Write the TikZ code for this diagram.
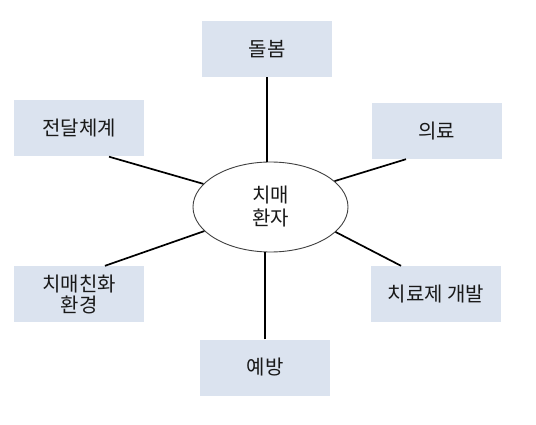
\documentclass[tikz,border=0pt]{standalone}
\usepackage{fontspec}
\setmainfont{Noto Sans CJK KR}
\usetikzlibrary{shapes.geometric}
\definecolor{boxfill}{RGB}{219,227,239}
\definecolor{txt}{RGB}{25,25,25}
\tikzset{
  topic/.style={rectangle, fill=boxfill, draw=none, minimum width=130pt, minimum height=56pt,
    inner sep=2pt, align=center, text=txt, font=\fontsize{20}{22}\selectfont},
  hub/.style={ellipse, draw=black!75, line width=0.9pt, fill=white, minimum width=155pt,
    minimum height=90pt, inner sep=0pt, align=center, text=txt, font=\fontsize{20}{23}\selectfont},
  link/.style={draw=black, line width=1.7pt}
}
\begin{document}
\begin{tikzpicture}[x=1pt,y=-1pt]
\useasboundingbox[fill=white] (0,0) rectangle (536,425);
\node[hub] (c) at (270.5,207) {치매\\환자};
\node[topic] (b1) at (267,49) {돌봄};
\node[topic] (b2) at (79,128.5) {전달체계};
\node[topic] (b3) at (436.5,131) {의료};
\node[topic] (b4) at (79,294) {치매친화\\[-1pt]환경};
\node[topic] (b5) at (436,294) {치료제 개발};
\node[topic] (b6) at (265,367.5) {예방};
\coordinate (p1) at (b1.south);
\coordinate (p2) at ([xshift=30pt]b2.south);
\coordinate (p3) at ([xshift=-30.5pt]b3.south);
\coordinate (p4) at ([xshift=26pt]b4.north);
\coordinate (p5) at ([xshift=-35pt]b5.north);
\coordinate (p6) at (b6.north);
\draw[link] (p1) -- (p1 |- c.north);
\draw[link] (p2) -- (c.161);
\draw[link] (p3) -- (c.22);
\draw[link] (p4) -- (c.200);
\draw[link] (p5) -- (c.339);
\draw[link] (p6) -- (p6 |- c.south);
\end{tikzpicture}
\end{document}
